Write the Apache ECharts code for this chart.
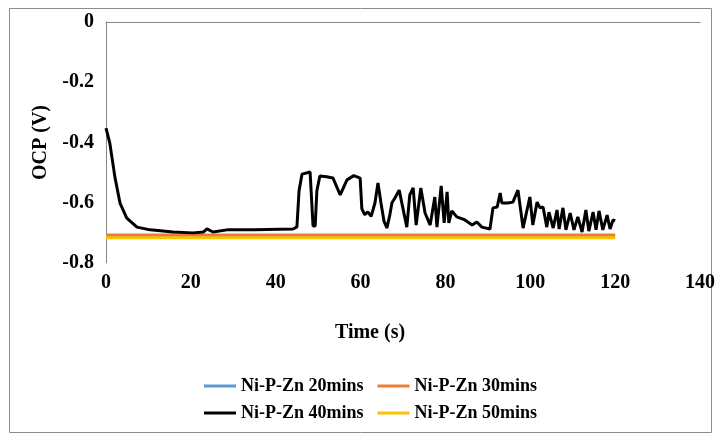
<!DOCTYPE html>
<html>
<head>
<meta charset="utf-8">
<script src="https://cdn.jsdelivr.net/npm/echarts@6/dist/echarts.min.js"></script>
<style>
html,body{margin:0;padding:0;background:#fff;}
#chart{width:721px;height:437px;}
</style>
</head>
<body>
<div id="chart"></div>
<script>
// ---- data ----
const seriesNames = ['Ni-P-Zn 20mins', 'Ni-P-Zn 30mins', 'Ni-P-Zn 40mins', 'Ni-P-Zn 50mins'];
const xTicks = [0, 20, 40, 60, 80, 100, 120, 140];
const yTicks = [0, -0.2, -0.4, -0.6, -0.8];

const flatTime = [0, 30, 60, 90, 120];
const ocp20 = [-0.711, -0.711, -0.711, -0.711, -0.711];
const ocp30 = [-0.707, -0.707, -0.707, -0.707, -0.707];
const ocp50 = [-0.716, -0.716, -0.716, -0.716, -0.716];

const time40 = [0, 0.9, 2.1, 3.3, 4.9, 7.3, 10.4, 15.8, 20.5, 23.0, 23.8, 25.2, 28.5, 35, 44.1, 45.0, 45.5, 46.2, 48.1, 48.8,
  49.3, 49.7, 50.4, 52.0, 53.5, 55.2, 56.8, 58.4, 59.9, 60.3, 61.0, 61.7, 62.5, 63.4, 64.1, 64.8, 65.5, 66.2, 66.9, 67.4,
  68.1, 69.1, 70.9, 71.6, 72.4, 73.1, 74.2, 75.2, 76.4,
  77.5, 78.0, 79.0, 79.7, 80.4, 80.8, 81.5, 82.7, 84.6, 86.3, 87.4, 88.6, 90.5, 91.2, 92.2, 92.9, 93.3, 94.7, 95.9, 97.1,
  98.3, 99.9, 100.6, 101.6, 102.3, 103.0, 103.9, 104.4, 105.4, 106.3, 106.8, 107.7, 108.4, 109.4, 110.3, 111.2, 112.2, 113.1, 113.8, 114.8,
  115.5, 116.2, 117.1, 118.1, 118.8, 119.5, 120];
const ocp40 = [-0.352, -0.402, -0.515, -0.601, -0.651, -0.681, -0.690, -0.697, -0.700, -0.697, -0.687, -0.697, -0.690, -0.690, -0.687, -0.680, -0.560, -0.505, -0.498, -0.677,
  -0.677, -0.560, -0.511, -0.514, -0.518, -0.574, -0.524, -0.510, -0.518, -0.620, -0.640, -0.630, -0.645, -0.600, -0.534, -0.600, -0.660, -0.684, -0.640, -0.600,
  -0.584, -0.558, -0.681, -0.574, -0.551, -0.674, -0.551, -0.634, -0.674,
  -0.581, -0.681, -0.544, -0.667, -0.564, -0.667, -0.627, -0.647, -0.657, -0.674, -0.664, -0.681, -0.687, -0.617, -0.614, -0.568, -0.601, -0.601, -0.598, -0.558,
  -0.684, -0.581, -0.674, -0.598, -0.617, -0.614, -0.681, -0.631, -0.684, -0.624, -0.687, -0.617, -0.690, -0.634, -0.690, -0.647, -0.697, -0.624, -0.694, -0.631,
  -0.690, -0.627, -0.690, -0.641, -0.687, -0.657, -0.660];

const colors = ['#5B9BD5', '#ED7D31', '#000000', '#FFC000'];

function pairs(xs, ys) { return xs.map((x, i) => [x, ys[i]]); }

const font = '"Liberation Serif", "Times New Roman", serif';
const chart = echarts.init(document.getElementById('chart'), null, {renderer: 'canvas'});

const legendText = {fontFamily: font, fontWeight: 'bold', fontSize: 18, color: '#000'};

chart.setOption({
  animation: false,
  backgroundColor: '#fff',
  color: colors,
  grid: {left: 106, right: 21, top: 22, bottom: 174, containLabel: false},
  graphic: [{
    type: 'rect', silent: true,
    shape: {x: 9.5, y: 8.5, width: 702, height: 424},
    style: {fill: 'none', stroke: '#8c8c8c', lineWidth: 1}
  }],
  legend: [
    {data: [seriesNames[0], seriesNames[1]], left: 204, top: 377, padding: 0, itemGap: 14, itemWidth: 32, itemHeight: 3, icon: 'rect', textStyle: legendText},
    {data: [seriesNames[2], seriesNames[3]], left: 204, top: 404, padding: 0, itemGap: 14, itemWidth: 32, itemHeight: 3, icon: 'rect', textStyle: legendText}
  ],
  xAxis: {
    type: 'value', min: 0, max: 140, interval: 20,
    name: 'Time (s)', nameLocation: 'middle', nameGap: 60,
    nameTextStyle: {fontFamily: font, fontWeight: 'bold', fontSize: 20, color: '#000', padding: [0, 66, 0, 0]},
    axisLine: {show: true, lineStyle: {color: '#868686', width: 1}},
    axisTick: {show: false},
    splitLine: {show: false},
    axisLabel: {fontFamily: font, fontWeight: 'bold', fontSize: 20, color: '#000', margin: 10}
  },
  yAxis: {
    type: 'value', min: -0.8, max: 0, interval: 0.2,
    name: 'OCP (V)', nameLocation: 'middle', nameGap: 55, nameRotate: 90,
    nameTextStyle: {fontFamily: font, fontWeight: 'bold', fontSize: 20, color: '#000'},
    axisLine: {show: true, lineStyle: {color: '#868686', width: 1}},
    axisTick: {show: false},
    splitLine: {show: false},
    axisLabel: {fontFamily: font, fontWeight: 'bold', fontSize: 20, color: '#000', margin: 12,
      formatter: v => String(Math.round(v * 10) / 10)}
  },
  series: [
    {name: seriesNames[0], type: 'line', data: pairs(flatTime, ocp20), showSymbol: false, symbol: 'none', lineStyle: {width: 3, color: colors[0]}, itemStyle: {color: colors[0]}},
    {name: seriesNames[1], type: 'line', data: pairs(flatTime, ocp30), showSymbol: false, symbol: 'none', lineStyle: {width: 3, color: colors[1]}, itemStyle: {color: colors[1]}},
    {name: seriesNames[2], type: 'line', data: pairs(time40, ocp40), showSymbol: false, symbol: 'none', lineStyle: {width: 3, color: colors[2]}, itemStyle: {color: colors[2]}},
    {name: seriesNames[3], type: 'line', data: pairs(flatTime, ocp50), showSymbol: false, symbol: 'none', lineStyle: {width: 3, color: colors[3]}, itemStyle: {color: colors[3]}}
  ]
});
</script>
</body>
</html>
